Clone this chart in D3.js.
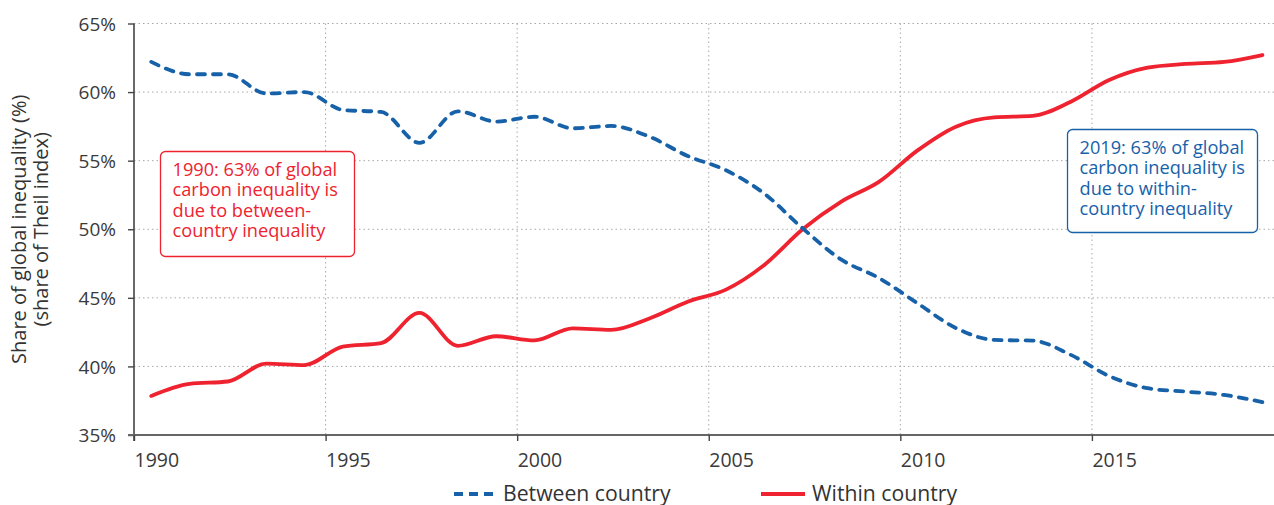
<!DOCTYPE html>
<html>
<head>
<meta charset="utf-8">
<script src="https://cdn.jsdelivr.net/npm/d3@7"></script>
<style>
  html, body { margin: 0; padding: 0; background: #fff; }
  svg { display: block; font-family: "Open Sans", "Noto Sans", sans-serif; font-weight: 400; }
</style>
</head>
<body>
<svg id="chart" width="1274" height="505"></svg>
<script>
// Years (values sit mid-year on the axis)
const years = [1990, 1991, 1992, 1993, 1994, 1995, 1996, 1997, 1998, 1999,
               2000, 2001, 2002, 2003, 2004, 2005, 2006, 2007, 2008, 2009,
               2010, 2011, 2012, 2013, 2014, 2015, 2016, 2017, 2018, 2019];

// Between-country share of global carbon inequality (%)
const betweenCountry = [62.2, 61.3, 61.3, 59.9, 60.0, 58.7, 58.55, 56.3, 58.6, 57.85,
                        58.2, 57.36, 57.53, 56.75, 55.34, 54.3, 52.6, 50.07, 47.8, 46.43,
                        44.6, 42.8, 41.93, 41.88, 40.84, 39.3, 38.41, 38.16, 37.92, 37.4];

// Within-country share of global carbon inequality (%)
const withinCountry = [37.85, 38.73, 38.9, 40.2, 40.1, 41.45, 41.7, 43.9, 41.5, 42.2,
                       41.9, 42.78, 42.66, 43.5, 44.72, 45.6, 47.4, 50.0, 52.0, 53.47,
                       55.75, 57.48, 58.16, 58.26, 59.3, 60.88, 61.78, 62.05, 62.2, 62.7];

const yTicks = [35, 40, 45, 50, 55, 60, 65];
const xTicks = [1990, 1995, 2000, 2005, 2010, 2015];

const legendLabels = ["Between country", "Within country"];
const noteLeft = ["1990: 63% of global", "carbon inequality is", "due to between-", "country inequality"];
const noteRight = ["2019: 63% of global", "carbon inequality is", "due to within-", "country inequality"];
const yTitle = ["Share of global inequality (%)", "(share of Theil index)"];

const BLUE = "#1761a9";
const RED = "#ee232f";
const TEXT = "#333";

const W = 1274, H = 505;
const svg = d3.select("#chart");

const x = d3.scaleLinear().domain([1990, 2020]).range([134, 1283.5]);
const y = d3.scaleLinear().domain([35, 65]).range([435, 23.5]);
const xRight = W;

// Grid
const grid = svg.append("g");
grid.selectAll("line.h").data(yTicks.filter(d => d > 35)).join("line")
  .attr("x1", x(1990)).attr("x2", xRight)
  .attr("y1", d => y(d)).attr("y2", d => y(d))
  .attr("stroke", "#a8a8a8").attr("stroke-width", 1).attr("stroke-dasharray", "1.5,3");
grid.selectAll("line.v").data(xTicks.filter(d => d > 1990)).join("line")
  .attr("x1", d => x(d)).attr("x2", d => x(d))
  .attr("y1", y(65)).attr("y2", y(35))
  .attr("stroke", "#a8a8a8").attr("stroke-width", 1).attr("stroke-dasharray", "1.5,3");

// Y axis
const yAxis = d3.axisLeft(y).tickValues(yTicks).tickSize(6).tickPadding(12)
  .tickFormat(d => d + "%");
const gy = svg.append("g").attr("transform", `translate(${x(1990)},0)`).call(yAxis);
gy.select(".domain").attr("stroke", "#444").attr("stroke-width", 1.6)
  .attr("d", `M0,${y(65)}V${y(35) + 6}`);
gy.selectAll(".tick line").attr("stroke", "#444").attr("stroke-width", 1.4);
gy.selectAll(".tick text").attr("fill", "#3a3a3a").style("font-size", "19px")
  .style("font-family", "Open Sans").style("font-weight", 400).attr("dy", "0.35em");

// X axis
const xAxis = d3.axisBottom(x).tickValues(xTicks).tickSize(6).tickPadding(9)
  .tickFormat(d3.format("d"));
const gx = svg.append("g").attr("transform", `translate(0,${y(35)})`).call(xAxis);
gx.select(".domain").attr("stroke", "#666").attr("stroke-width", 2.2)
  .attr("d", `M${x(1990) - 6},0H${xRight}`);
gx.selectAll(".tick line").attr("stroke", "#444").attr("stroke-width", 1.4);
gx.selectAll(".tick text").attr("fill", "#3a3a3a").style("font-size", "19.5px")
  .style("font-family", "Open Sans").style("font-weight", 400)
  .attr("text-anchor", "start").attr("dy", "0.85em");

// Y axis title
const yt = svg.append("text")
  .attr("transform", `translate(26,${(y(35) + y(65)) / 2}) rotate(-90)`)
  .attr("text-anchor", "middle").attr("fill", TEXT).style("font-size", "20px");
yt.selectAll("tspan").data(yTitle).join("tspan")
  .attr("x", 0).attr("dy", (d, i) => i === 0 ? 0 : 22).text(d => d);

// Series lines
const line = vals => d3.line()
  .x((d, i) => x(years[i] + 0.45))
  .y(d => y(d))
  .curve(d3.curveMonotoneX)(vals);

svg.append("path").attr("d", line(withinCountry))
  .attr("fill", "none").attr("stroke", RED).attr("stroke-width", 3.8)
  .attr("stroke-linecap", "round").attr("stroke-linejoin", "round");

svg.append("path").attr("d", line(betweenCountry))
  .attr("fill", "none").attr("stroke", BLUE).attr("stroke-width", 3.8)
  .attr("stroke-dasharray", "8,8").attr("stroke-linecap", "round");

// Annotation boxes
function note(lines, color, bx, by, bw, bh) {
  const g = svg.append("g");
  g.append("rect").attr("x", bx).attr("y", by).attr("width", bw).attr("height", bh)
    .attr("rx", 5).attr("fill", "#fff").attr("stroke", color).attr("stroke-width", 1.3);
  g.append("text").attr("fill", color).style("font-size", "18.2px")
    .selectAll("tspan").data(lines).join("tspan")
    .attr("x", bx + 12).attr("y", (d, i) => by + 24 + i * 20.5).text(d => d);
}
note(noteLeft, RED, 160.5, 151.5, 194, 105);
note(noteRight, BLUE, 1067.5, 129.5, 190, 103);

// Legend
const lg = svg.append("g");
lg.append("line").attr("x1", 454).attr("x2", 496).attr("y1", 494).attr("y2", 494)
  .attr("stroke", BLUE).attr("stroke-width", 3.8).attr("stroke-dasharray", "9,6")
  .attr("stroke-linecap", "butt");
lg.append("text").attr("x", 503).attr("y", 501).attr("fill", TEXT)
  .style("font-size", "21.2px").text(legendLabels[0]);
lg.append("line").attr("x1", 761).attr("x2", 805).attr("y1", 494).attr("y2", 494)
  .attr("stroke", RED).attr("stroke-width", 3.8);
lg.append("text").attr("x", 812).attr("y", 501).attr("fill", TEXT)
  .style("font-size", "21.2px").text(legendLabels[1]);
</script>
</body>
</html>
